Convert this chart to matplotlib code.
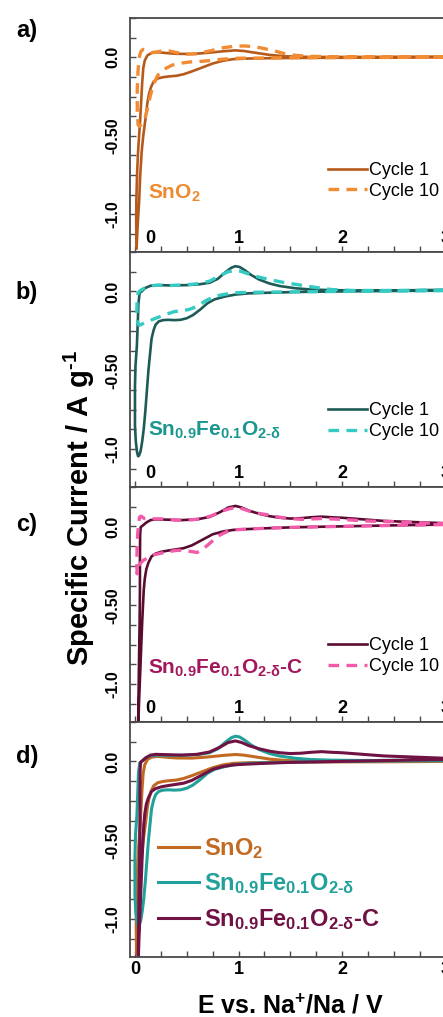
import matplotlib
matplotlib.use('Agg')
import matplotlib.pyplot as plt
import matplotlib.transforms as mtransforms
from matplotlib.ticker import FixedLocator, MultipleLocator

plt.rcParams['font.family'] = ['Liberation Sans', 'DejaVu Sans']
plt.rcParams['mathtext.fontset'] = 'custom'
plt.rcParams['mathtext.rm'] = 'Liberation Sans:bold'
plt.rcParams['mathtext.it'] = 'Liberation Sans:bold'
plt.rcParams['mathtext.bf'] = 'Liberation Sans:bold'
plt.rcParams['mathtext.sf'] = 'Liberation Sans:bold'

# ---- data: potential (V) and specific current (A/g), cathodic sweep then anodic sweep
# a) SnO2
a_c1_v = [3.0, 2.5, 2.0, 1.6, 1.3, 1.1, 0.95, 0.85, 0.75, 0.65, 0.55, 0.47, 0.40, 0.33, 0.27,
          0.22, 0.18, 0.155, 0.135, 0.12, 0.10, 0.08, 0.065, 0.05, 0.04, 0.025, 0.015,
          0.012, 0.013, 0.02, 0.03, 0.04, 0.05, 0.06, 0.07, 0.08, 0.095, 0.12, 0.16, 0.22,
          0.30, 0.40, 0.55, 0.70, 0.85, 0.97, 1.05, 1.15, 1.3, 1.45, 1.7, 2.2, 2.6, 3.0]
a_c1_i = [0.0, -0.002, -0.003, -0.004, -0.006, -0.008, -0.012, -0.022, -0.04, -0.065, -0.09,
          -0.108, -0.118, -0.122, -0.127, -0.135, -0.155, -0.19, -0.235, -0.29, -0.40, -0.50,
          -0.60, -0.76, -0.92, -1.08, -1.22,
          -1.05, -0.92, -0.75, -0.6, -0.5, -0.40, -0.28, -0.16, -0.07, -0.02, 0.012, 0.027,
          0.032, 0.027, 0.022, 0.021, 0.028, 0.038, 0.044, 0.04, 0.03, 0.015, 0.006, 0.002,
          0.002, 0.003, 0.004]
a_c10_v = [3.0, 2.0, 1.5, 1.2, 1.0, 0.85, 0.75, 0.62, 0.53, 0.45, 0.36, 0.30, 0.25, 0.22,
           0.18, 0.15, 0.12, 0.10, 0.07, 0.045, 0.03,
           0.022, 0.022, 0.03, 0.045, 0.06, 0.08, 0.11, 0.16, 0.22, 0.30, 0.40, 0.50, 0.60,
           0.72, 0.85, 0.95, 1.05, 1.15, 1.25, 1.35, 1.45, 1.55, 1.7, 2.0, 2.5, 3.0]
a_c10_i = [0.0, -0.002, -0.003, -0.005, -0.006, -0.012, -0.02, -0.027, -0.03, -0.037, -0.05,
           -0.07, -0.095, -0.115, -0.17, -0.24, -0.33, -0.38, -0.42, -0.44, -0.43,
           -0.35, -0.2, -0.08, 0.01, 0.04, 0.05, 0.045, 0.03, 0.035, 0.045, 0.03, 0.02, 0.022,
           0.04, 0.06, 0.07, 0.072, 0.068, 0.055, 0.04, 0.022, 0.012, 0.006, 0.003, 0.003, 0.004]

# b) Sn0.9Fe0.1O2-d
b_c1_v = [3.0, 2.5, 2.0, 1.6, 1.3, 1.1, 0.97, 0.87, 0.77, 0.70, 0.63, 0.56, 0.50, 0.44, 0.38,
          0.32, 0.27, 0.23, 0.20, 0.18, 0.16, 0.145, 0.13, 0.115, 0.10, 0.085, 0.07, 0.055,
          0.04, 0.03,
          0.02, 0.008, 0.0, 0.0, 0.0, 0.005, 0.018, 0.027, 0.033, 0.045, 0.07, 0.10, 0.15,
          0.22, 0.35, 0.50, 0.62, 0.72, 0.80, 0.87, 0.93, 0.97, 1.01, 1.06, 1.12, 1.2, 1.3,
          1.4, 1.55, 1.7, 1.9, 2.2, 2.6, 3.0]
b_c1_i = [0.005, 0.003, 0.0, -0.003, -0.008, -0.012, -0.02, -0.032, -0.05, -0.075, -0.115,
          -0.15, -0.17, -0.18, -0.182, -0.18, -0.182, -0.19, -0.21, -0.245, -0.3, -0.4, -0.5,
          -0.63, -0.76, -0.87, -0.95, -1.01, -1.04, -1.045,
          -1.02, -0.95, -0.85, -0.72, -0.6, -0.47, -0.35, -0.2, -0.08, -0.01, 0.003, 0.022,
          0.036, 0.04, 0.038, 0.04, 0.045, 0.055, 0.08, 0.12, 0.15, 0.16, 0.155, 0.135, 0.105,
          0.075, 0.05, 0.034, 0.02, 0.012, 0.008, 0.006, 0.007, 0.01]
b_c10_v = [3.0, 2.5, 2.0, 1.6, 1.3, 1.1, 0.97, 0.87, 0.77, 0.68, 0.60, 0.52, 0.45, 0.38, 0.30,
           0.24, 0.18, 0.13, 0.09, 0.06, 0.04,
           0.025, 0.018, 0.02, 0.03, 0.05, 0.09, 0.15, 0.22, 0.35, 0.50, 0.62, 0.72, 0.82,
           0.90, 0.96, 1.02, 1.1, 1.2, 1.3, 1.45, 1.6, 1.75, 1.9, 2.1, 2.5, 3.0]
b_c10_i = [0.005, 0.003, 0.0, -0.002, -0.004, -0.006, -0.008, -0.018, -0.03, -0.06, -0.095,
           -0.115, -0.122, -0.128, -0.145, -0.16, -0.175, -0.19, -0.2, -0.21, -0.215,
           -0.19, -0.13, -0.06, -0.01, 0.005, 0.02, 0.036, 0.04, 0.038, 0.042, 0.05, 0.065,
           0.1, 0.125, 0.132, 0.128, 0.11, 0.09, 0.075, 0.055, 0.04, 0.025, 0.012, 0.006,
           0.006, 0.009]

# c) Sn0.9Fe0.1O2-d-C
c_c1_v = [3.0, 2.6, 2.2, 1.8, 1.5, 1.25, 1.05, 0.95, 0.85, 0.75, 0.65, 0.55, 0.47, 0.40, 0.33,
          0.26, 0.20, 0.16, 0.13, 0.11, 0.095, 0.085, 0.07, 0.055, 0.04, 0.03,
          0.038, 0.045, 0.048, 0.048, 0.05, 0.055, 0.07, 0.11, 0.15, 0.20, 0.30, 0.45, 0.60,
          0.72, 0.82, 0.90, 0.97, 1.03, 1.1, 1.2, 1.3, 1.4, 1.5, 1.6, 1.7, 1.8, 1.9, 2.0, 2.2,
          2.4, 2.6, 2.8, 3.0]
c_c1_i = [0.012, 0.008, 0.003, -0.002, -0.006, -0.012, -0.018, -0.022, -0.032, -0.05, -0.085,
          -0.12, -0.138, -0.145, -0.152, -0.16, -0.172, -0.19, -0.23, -0.27, -0.33, -0.4,
          -0.6, -0.85, -1.1, -1.3,
          -0.9, -0.6, -0.4, -0.2, -0.05, -0.005, 0.003, 0.025, 0.04, 0.045, 0.043, 0.04,
          0.045, 0.06, 0.09, 0.12, 0.13, 0.12, 0.1, 0.08, 0.065, 0.055, 0.05, 0.052, 0.058,
          0.062, 0.058, 0.055, 0.045, 0.035, 0.03, 0.025, 0.02]
c_c10_v = [3.0, 2.6, 2.2, 1.8, 1.5, 1.25, 1.05, 0.95, 0.88, 0.82, 0.76, 0.70, 0.64, 0.60, 0.55,
           0.48, 0.40, 0.32, 0.25, 0.18, 0.12, 0.08, 0.05, 0.03, 0.02,
           0.018, 0.02, 0.025, 0.035, 0.045, 0.06, 0.09, 0.15, 0.25, 0.40, 0.55, 0.65, 0.75,
           0.83, 0.90, 0.97, 1.05, 1.13, 1.22, 1.3, 1.4, 1.5, 1.6, 1.8, 2.0, 2.2, 2.5, 2.8, 3.0]
c_c10_i = [0.012, 0.008, 0.003, -0.002, -0.006, -0.012, -0.018, -0.022, -0.035, -0.055, -0.085,
           -0.12, -0.15, -0.165, -0.16, -0.152, -0.152, -0.16, -0.17, -0.18, -0.2, -0.215,
           -0.235, -0.26, -0.3,
           -0.24, -0.15, -0.06, 0.02, 0.06, 0.065, 0.05, 0.048, 0.048, 0.04, 0.042, 0.05,
           0.07, 0.095, 0.11, 0.12, 0.11, 0.09, 0.08, 0.072, 0.058, 0.05, 0.045, 0.05, 0.045,
           0.035, 0.03, 0.022, 0.018]

names = [r'SnO$_2$',
         r'Sn$_{0.9}$Fe$_{0.1}$O$_{2\text{-}\delta}$',
         r'Sn$_{0.9}$Fe$_{0.1}$O$_{2\text{-}\delta}$-C']
cycle_labels = ['Cycle 1', 'Cycle 10']
panel_letters = ['a)', 'b)', 'c)', 'd)']
xtick_vals = [0, 1, 2, 3]
xtick_text = ['0', '1', '2', '3']
ytick_vals = [-1.0, -0.5, 0.0]
ytick_text = ['-1.0', '-0.50', '0.0']

c1_colors = ['#B65A1C', '#1E5B57', '#5A0C30']
c10_colors = ['#F28C33', '#35CBC3', '#F25AAA']
name_colors = ['#F08A30', '#1C978F', '#A3175C']
d_colors = ['#C26A22', '#22A09A', '#701244']

cycles = [(a_c1_v, a_c1_i, a_c10_v, a_c10_i),
          (b_c1_v, b_c1_i, b_c10_v, b_c10_i),
          (c_c1_v, c_c1_i, c_c10_v, c_c10_i)]

W, H = 443, 1017
fig = plt.figure(figsize=(W / 100, H / 100), dpi=100)

tops = [18, 252, 487, 722]
bots = [252, 487, 722, 957]
axes = []
for top, bot in zip(tops, bots):
    ax = fig.add_axes([130 / W, 1 - bot / H, 326 / W, (bot - top) / H])
    ax.set_xlim(-0.048, 3.1)
    ax.set_ylim(-1.24, 0.25)
    for sp in ax.spines.values():
        sp.set_color('#4a4a4a')
        sp.set_linewidth(1.3)
    ax.xaxis.set_major_locator(FixedLocator(xtick_vals))
    ax.xaxis.set_minor_locator(MultipleLocator(0.25))
    ax.yaxis.set_major_locator(FixedLocator(ytick_vals))
    ax.yaxis.set_minor_locator(MultipleLocator(0.125))
    ax.tick_params(which='both', direction='in', length=4, width=1, color='#4a4a4a')
    ax.set_yticklabels(ytick_text, rotation=90, va='center', fontsize=11.5, fontweight='bold')
    ax.tick_params(axis='y', pad=7)
    axes.append(ax)

# panels a-c
for k in range(3):
    ax = axes[k]
    v1, i1, v10, i10 = cycles[k]
    ax.plot(v1, i1, color=c1_colors[k], lw=1.9, label=cycle_labels[0])
    ax.plot(v10, i10, color=c10_colors[k], lw=2.4, dashes=(3.2, 2.2), label=cycle_labels[1])
    ax.tick_params(axis='x', labelbottom=False)
    tr = ax.get_xaxis_transform()
    for v, t in zip(xtick_vals, xtick_text):
        ttr = mtransforms.offset_copy(tr, fig=fig, x=15 if v == 0 else 0, y=0, units='dots')
        ax.text(v, 0.058, t, transform=ttr, ha='center', va='center',
                fontsize=13, fontweight='bold')
    ax.text(0.055, 0.25 - 0.01 * k, names[k], transform=ax.transAxes, ha='left', va='center',
            fontsize=15, fontweight='bold', color=name_colors[k])
    ax.legend(loc='upper left', bbox_to_anchor=(0.607, 0.385 - 0.025 * (k > 0)),
              frameon=False, fontsize=13, handlelength=2.15, handletextpad=0.1,
              labelspacing=0.2, borderpad=0, borderaxespad=0)

# panel d
ax = axes[3]
for k in range(3):
    v1, i1 = cycles[k][0], cycles[k][1]
    ax.plot(v1, i1, color=d_colors[k], lw=2.2, label=names[k])
ax.set_xticklabels(xtick_text, fontsize=13, fontweight='bold')
ax.tick_params(axis='x', pad=3)
ax.legend(loc='upper left', bbox_to_anchor=(0.086, 0.515), frameon=False,
          prop={'size': 17, 'weight': 'bold'}, labelcolor='linecolor',
          handlelength=1.75, handletextpad=0.2, labelspacing=0.45,
          borderpad=0, borderaxespad=0)

# panel letters and axis titles
letter_y = [30, 293, 525, 757]
for lt, y in zip(panel_letters, letter_y):
    fig.text(27 / W, 1 - y / H, lt, ha='center', va='center', fontsize=17, fontweight='bold')
fig.text(79 / W, 1 - 508 / H, r'Specific Current / A g$^{\text{-}1}$', rotation=90,
         ha='center', va='center', fontsize=21, fontweight='bold')
fig.text(290 / W, 1 - 1006 / H, r'E vs. Na$^{+}$/Na / V', ha='center', va='center',
         fontsize=18, fontweight='bold')

fig.savefig('out.png', dpi=100)
